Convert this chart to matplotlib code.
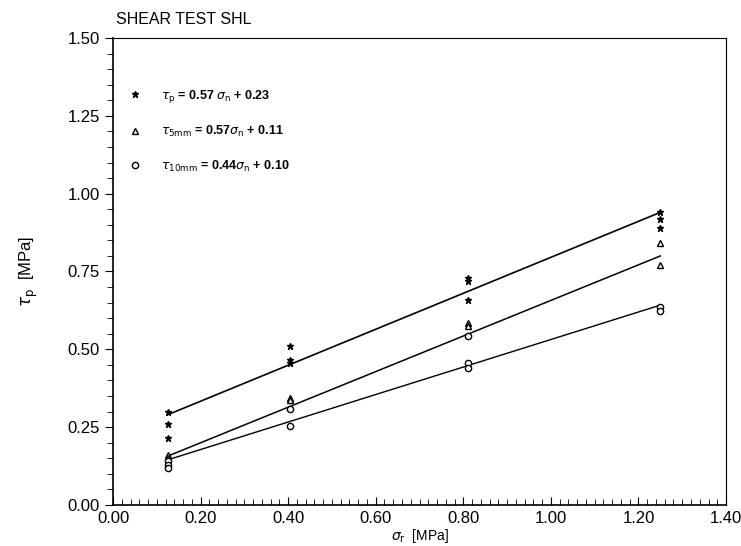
import matplotlib
matplotlib.use('Agg')
import matplotlib.pyplot as plt
from matplotlib.ticker import MultipleLocator, FormatStrFormatter

# Normal stress levels [MPa]
sigma_levels = [0.125, 0.405, 0.81, 1.25]

# Peak shear stress (stars)
peak_x = [0.125, 0.125, 0.125, 0.405, 0.405, 0.405, 0.81, 0.81, 0.81, 1.25, 1.25, 1.25]
peak_y = [0.30, 0.26, 0.215, 0.51, 0.465, 0.457, 0.73, 0.72, 0.66, 0.94, 0.92, 0.89]

# Shear stress at 5 mm displacement (triangles)
s5_x = [0.125, 0.125, 0.405, 0.405, 0.81, 0.81, 1.25, 1.25]
s5_y = [0.16, 0.15, 0.345, 0.337, 0.585, 0.576, 0.84, 0.77]

# Shear stress at 10 mm displacement (circles)
s10_x = [0.125, 0.125, 0.125, 0.405, 0.405, 0.81, 0.81, 0.81, 1.25, 1.25]
s10_y = [0.14, 0.13, 0.12, 0.308, 0.255, 0.543, 0.455, 0.44, 0.635, 0.622]

# Fitted lines, end points as drawn
fit_x = [0.125, 1.25]
fit_peak = [0.29, 0.94]
fit_5mm = [0.157, 0.80]
fit_10mm = [0.145, 0.642]

labels = [r'$\tau_{\mathrm{p}}$ = 0.57 $\sigma_{\mathrm{n}}$ + 0.23',
          r'$\tau_{\mathrm{5mm}}$ = 0.57$\sigma_{\mathrm{n}}$ + 0.11',
          r'$\tau_{\mathrm{10mm}}$ = 0.44$\sigma_{\mathrm{n}}$ + 0.10']

plt.rcParams['font.family'] = ['Liberation Sans', 'DejaVu Sans']
plt.rcParams['mathtext.fontset'] = 'dejavusans'

fig = plt.figure(figsize=(7.41, 5.46), dpi=100)
ax = fig.add_axes([0.1525, 0.0751, 0.8273, 0.8553])

# fit lines
ax.plot(fit_x, fit_peak, color='black', lw=1.2)
ax.plot(fit_x, fit_5mm, color='black', lw=1.1)
ax.plot(fit_x, fit_10mm, color='black', lw=1.0)

# measured points
h1, = ax.plot(peak_x, peak_y, ls='none', marker='*', ms=4.5, color='black')
h2, = ax.plot(s5_x, s5_y, ls='none', marker='^', ms=4.5, mfc='white', mec='black', mew=1.0)
h3, = ax.plot(s10_x, s10_y, ls='none', marker='o', ms=4.5, mfc='white', mec='black', mew=1.0)

leg = ax.legend([h1, h2, h3], labels, loc='upper left', bbox_to_anchor=(0.005, 0.92),
                frameon=False, fontsize=9, labelspacing=1.55, handlelength=1.0,
                handletextpad=1.6, borderaxespad=0.6)
for t in leg.get_texts():
    t.set_fontweight('bold')

ax.set_xlim(0, 1.4)
ax.set_ylim(0, 1.5)
ax.xaxis.set_major_locator(MultipleLocator(0.2))
ax.xaxis.set_minor_locator(MultipleLocator(0.02))
ax.yaxis.set_major_locator(MultipleLocator(0.25))
ax.yaxis.set_minor_locator(MultipleLocator(0.05))
ax.xaxis.set_major_formatter(FormatStrFormatter('%.2f'))
ax.yaxis.set_major_formatter(FormatStrFormatter('%.2f'))

ax.tick_params(axis='x', which='both', direction='in', top=False, labelsize=12)
ax.tick_params(axis='x', which='major', length=6, pad=4)
ax.tick_params(axis='x', which='minor', length=4)
ax.tick_params(axis='y', which='both', direction='out', right=False, labelsize=12)
ax.tick_params(axis='y', which='major', length=6)
ax.tick_params(axis='y', which='minor', length=4)

for s in ax.spines.values():
    s.set_linewidth(1.2)
ax.spines['top'].set_linewidth(0.8)
ax.spines['right'].set_linewidth(0.8)

ax.set_xlabel(r'$\sigma_{\mathrm{r}}$  [MPa]', fontsize=10, labelpad=1)
ax.set_ylabel(r'$\tau_{\mathrm{p}}$  [MPa]', fontsize=12, labelpad=20)
fig.text(0.157, 0.965, 'SHEAR TEST SHL', fontsize=11.5, va='center', ha='left')

fig.savefig('out.png', dpi=100)
